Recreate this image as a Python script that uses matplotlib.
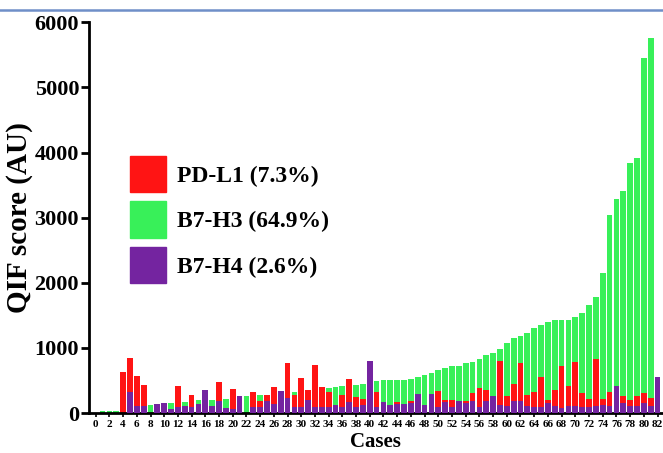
import matplotlib
matplotlib.use("Agg")
import matplotlib.pyplot as plt
from matplotlib.patches import Patch
from matplotlib.lines import Line2D

plt.rcParams['font.family'] = ['Liberation Serif', 'DejaVu Serif']
plt.rcParams['font.weight'] = 'bold'

# cases 1..82 (case 0 empty)
cases = list(range(1, 83))
b7h3 = [36, 36, 36, 40, 45, 50, 55, 118, 120, 130,
        158, 160, 169, 175, 195, 197, 199, 205, 215, 220,
        240, 265, 270, 281, 285, 290, 300, 305, 322, 330,
        340, 350, 370, 390, 399, 414, 420, 434, 450, 470,
        491, 501, 501, 511, 511, 526, 552, 588, 620, 660,
        690, 716, 726, 767, 782, 828, 894, 920, 982, 1074,
        1150, 1186, 1237, 1304, 1355, 1405, 1431, 1431, 1431, 1472,
        1534, 1661, 1779, 2157, 3042, 3287, 3410, 3835, 3921, 5455,
        5752, 0]
pdl1 = [0, 0, 0, 630, 845, 570, 425, 0, 0, 0,
        0, 415, 0, 272, 0, 0, 0, 482, 0, 378,
        0, 0, 325, 180, 283, 400, 0, 770, 275, 545,
        362, 735, 402, 325, 0, 285, 518, 240, 210, 0,
        320, 0, 0, 172, 0, 188, 0, 0, 0, 340,
        205, 205, 0, 180, 307, 383, 358, 0, 803, 256,
        445, 767, 281, 317, 547, 194, 348, 731, 419, 782,
        307, 220, 828, 215, 332, 0, 256, 194, 256, 307,
        230, 0]
b7h4 = [0, 0, 0, 0, 320, 107, 107, 0, 135, 153,
        70, 92, 107, 90, 145, 360, 105, 190, 80, 60,
        265, 0, 100, 92, 180, 145, 335, 238, 92, 92,
        195, 92, 92, 92, 125, 92, 172, 92, 125, 800,
        92, 175, 125, 145, 135, 160, 290, 125, 292, 92,
        164, 92, 179, 160, 179, 92, 179, 266, 128, 102,
        179, 179, 102, 92, 92, 153, 102, 77, 112, 102,
        92, 92, 112, 128, 102, 409, 153, 112, 102, 153,
        112, 552]
labels = ['PD-L1 (7.3%)', 'B7-H3 (64.9%)', 'B7-H4 (2.6%)']

c_red = '#FF1414'
c_green = '#38F059'
c_purple = '#7424A0'

fig = plt.figure(figsize=(6.63, 4.53), dpi=100)
ax = fig.add_axes([0.134, 0.088, 0.866, 0.863])

w = 0.84
ax.bar(cases, b7h3, width=w, color=c_green, zorder=1)
ax.bar(cases, pdl1, width=w, color=c_red, zorder=2)
ax.bar(cases, b7h4, width=w, color=c_purple, zorder=3)

ax.set_xlim(-1.0, 82.8)
ax.set_ylim(0, 6000)
ax.set_yticks(range(0, 6001, 1000))
ax.set_xticks(range(0, 83, 2))
ax.tick_params(axis='y', labelsize=16, width=2, length=6, pad=1)
ax.tick_params(axis='x', labelsize=8, width=1.2, length=3, pad=2)
for t in ax.get_xticklabels() + ax.get_yticklabels():
    t.set_fontweight('bold')

for s in ['top', 'right']:
    ax.spines[s].set_visible(False)
for s in ['left', 'bottom']:
    ax.spines[s].set_linewidth(2)

ax.set_ylabel('QIF score (AU)', fontsize=21, fontweight='bold', labelpad=1)
ax.set_xlabel('Cases', fontsize=15, fontweight='bold', labelpad=2)

handles = [Patch(color=c_red), Patch(color=c_green), Patch(color=c_purple)]
ax.legend(handles, labels, loc='upper left', bbox_to_anchor=(0.071, 0.658),
          frameon=False, borderpad=0, borderaxespad=0,
          prop={'family': 'Liberation Serif', 'weight': 'bold', 'size': 17},
          handlelength=1.55, handleheight=2.0, labelspacing=0.38, handletextpad=0.45)

fig.add_artist(Line2D([0, 1], [0.978, 0.978], color='#6F8FC8', lw=1.8,
                      transform=fig.transFigure))

fig.savefig('out.png', dpi=100)
